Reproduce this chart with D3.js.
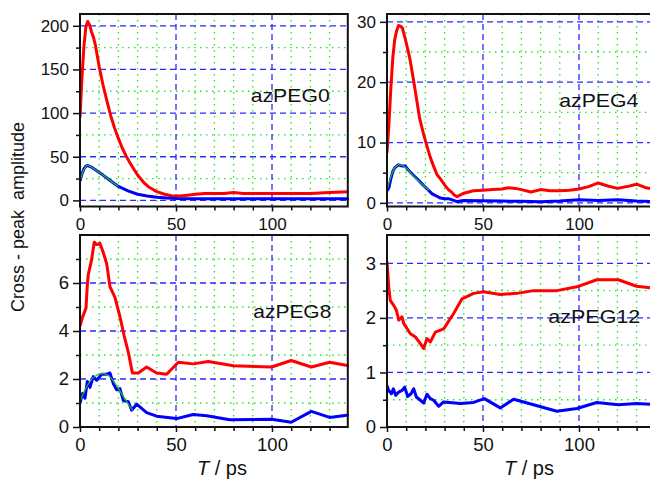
<!DOCTYPE html>
<html>
<head>
<meta charset="utf-8">
<script src="https://cdn.jsdelivr.net/npm/d3@7"></script>
<style>
  body { margin: 0; background: #fff; }
  text { font-family: "Liberation Sans", Arial, sans-serif; fill: #111; }
</style>
</head>
<body>
<svg id="chart"></svg>
<script>
// four panels, cross-peak amplitude vs waiting time T
const xMajor = [0, 50, 100];
const xMinor = [10, 20, 30, 40, 60, 70, 80, 90, 110, 120, 130];

// azPEG0
const tRed0 = [0,1,2,3,4,5,6,7,8,10,12,14,16,18,20,22,24,26,28,30,33,36,40,44,48,52,56,60,65,70,75,80,85,90,100,110,120,130,140];
const red0 = [95,140,175,198,205,201,193,187,178,153,132,114,97,83,71,60,51,43,36,29,21,15,10,7,5,5,6,7,8,8,8,9,8,8,8,8,8,9,10];
const tBlue0 = [0,1,2,3,4,5,6,8,10,12,15,18,20,25,30,35,40,45,50,60,70,80,90,100,110,120,130,140];
const blue0 = [22,30,36,39,40,39,38,35,32,29,24,19,16,11,7,5,3.5,2.8,2.3,2,2,2,2,2,2,2,2,2];
const tFit0 = [0,2,4,6,8,10,12,15,18,20];
const fit0 = [22,35,40,38,35,32,29,24,19,16];

// azPEG4
const tRed4 = [0,1,2,3,4,5,6,7,8,9.5,11,12.2,14,15.6,17,19.1,21,22.6,24,26,28,30.4,32,33.9,35,36.5,38,40,45,50,55,60,63,67,70,75,80,85,90,95,100,105,110,115,120,125,130,135,140];
const red4 = [8.3,13,19,24,27,28.5,29.4,29.3,29,27.2,25.2,23.4,20,16.8,14,11.3,9.2,7.5,6.3,4.7,3.9,2.8,2.2,1.7,1.3,1.0,1.3,1.6,2.0,2.1,2.2,2.3,2.5,2.4,2.2,1.8,2.2,2.0,2.0,2.1,2.3,2.7,3.3,2.8,2.4,2.7,3.1,2.5,2.2];
const tBlue4 = [0,1,2,3,4,5,6,7,8,9.5,11,12.5,14,16,19,21,23.5,26,27.8,30,32,34,36.5,38,40,50,60,70,80,90,100,110,120,130,140];
const blue4 = [2.0,2.5,4.0,5.2,5.8,6.1,6.3,6.2,6.1,6.1,5.5,5.0,4.5,3.9,2.9,2.3,1.5,1.1,0.8,0.7,0.7,0.5,0.2,0.3,0.4,0.35,0.3,0.25,0.2,0.3,0.5,0.4,0.5,0.3,0.2];
const tFit4 = [0,2,4,6,8,10,12,14,16,18,20,22];
const fit4 = [2.0,4.3,5.8,6.3,6.2,5.8,5.1,4.4,3.8,3.2,2.6,2.1];

// azPEG8
const tRed8 = [0,1.4,3.1,3.8,4.3,6,7.4,8.7,10.4,12,13.9,15.6,18.2,20.8,23,25.2,27.3,30.4,34.7,39.9,45.1,51.2,59,66.8,79.9,99.8,110,120.5,130,140];
const red8 = [4.2,4.6,4.95,5.9,6.35,6.95,7.7,7.6,7.65,7.3,6.8,5.85,5.4,4.6,3.8,3.1,2.25,2.25,2.5,2.25,2.2,2.7,2.63,2.73,2.55,2.5,2.77,2.5,2.7,2.55];
const tBlue8 = [0,1.4,2.6,3.8,5.2,6.9,8.7,11.3,13.9,15.6,17.4,19.1,20.8,22.6,25.2,26.9,29.5,34.7,39.9,50.3,59,66,78,99.8,110,120.5,130,140];
const blue8 = [1.0,1.4,1.2,1.9,1.65,2.1,1.95,2.2,2.2,2.25,1.8,1.55,1.6,1.1,1.05,0.7,0.95,0.6,0.45,0.35,0.52,0.47,0.3,0.32,0.2,0.65,0.4,0.5];
const tFit8 = [0,2,4,6,8,10,12,14,16,18,20,22,24,26,27.5];
const fit8 = [1.05,1.45,1.75,1.98,2.12,2.2,2.22,2.18,2.05,1.85,1.6,1.35,1.1,0.85,0.7];

// azPEG12
const tRed12 = [0,0.9,1.7,3.5,4.9,6.1,7.8,8.7,10.5,12.2,14.8,17.4,19.1,20.8,22.6,25.2,29.5,34.7,39.1,45.1,50.3,59,67.7,76.4,88.5,98.9,109.3,120.5,130,140];
const red12 = [3.03,2.57,2.32,2.23,2.14,1.96,2.02,1.9,1.8,1.71,1.65,1.53,1.44,1.62,1.56,1.74,1.8,2.08,2.35,2.45,2.48,2.43,2.45,2.5,2.5,2.57,2.7,2.7,2.58,2.54];
const tBlue12 = [0,0.9,2.3,3.3,4.5,6.1,7.8,9.2,10.8,12.5,13.9,15.3,17.4,19.1,20.8,22.6,24.3,26.9,29.5,38.2,45.1,50.7,59,66,88.5,98.9,109.3,120.5,130,140];
const blue12 = [0.76,0.67,0.61,0.7,0.58,0.64,0.67,0.73,0.56,0.61,0.7,0.55,0.49,0.44,0.6,0.52,0.49,0.38,0.46,0.43,0.45,0.52,0.35,0.51,0.29,0.34,0.45,0.41,0.43,0.41];

const panels = [
  { name: "azPEG0", x0: 80, y0: 14, h: 192.5, ydom: [-7, 213.5], yMajor: [0,50,100,150,200], yMinor: [25,75,125,175],
    red: [tRed0, red0], blue: [tBlue0, blue0], fit: [tFit0, fit0], lab: [170.7, 87.7, 79], fs: 17 },
  { name: "azPEG4", x0: 387, y0: 14, h: 192.5, ydom: [-0.6, 31.3], yMajor: [0,10,20,30], yMinor: [5,15,25],
    red: [tRed4, red4], blue: [tBlue4, blue4], fit: [tFit4, fit4], lab: [172.3, 93.3, 79], fs: 17 },
  { name: "azPEG8", x0: 80, y0: 235, h: 192, ydom: [0, 8], yMajor: [0,2,4,6], yMinor: [1,3,5,7],
    red: [tRed8, red8], blue: [tBlue8, blue8], fit: [tFit8, fit8], lab: [173.3, 83.3, 78], fs: 18.5 },
  { name: "azPEG12", x0: 387, y0: 235, h: 192, ydom: [0, 3.52], yMajor: [0,1,2,3], yMinor: [0.5,1.5,2.5],
    red: [tRed12, red12], blue: [tBlue12, blue12], fit: null, lab: [161.3, 87.7, 92], fs: 18.5 }
];

const width = 650, height = 479;
const pw = 268.8;

const svg = d3.select("#chart")
  .attr("width", width)
  .attr("height", height);

function drawPanel(p, i) {
  const x = d3.scaleLinear().domain([0, 140]).range([0, pw]);
  const y = d3.scaleLinear().domain(p.ydom).range([p.h, 0]);
  const g = svg.append("g").attr("transform", `translate(${p.x0},${p.y0})`);

  g.append("clipPath").attr("id", "clip" + i)
    .append("rect").attr("width", pw).attr("height", p.h);

  // grid: green dotted minor, blue dashed major
  g.selectAll(".gx").data(xMinor).enter().append("line")
    .attr("x1", d => x(d)).attr("x2", d => x(d)).attr("y1", 0).attr("y2", p.h)
    .attr("stroke", "#22e622").attr("stroke-width", 1.3).attr("stroke-dasharray", "1.5,4.5");
  g.selectAll(".gy").data(p.yMinor).enter().append("line")
    .attr("x1", 0).attr("x2", pw).attr("y1", d => y(d)).attr("y2", d => y(d))
    .attr("stroke", "#22e622").attr("stroke-width", 1.3).attr("stroke-dasharray", "1.5,4.5");
  g.selectAll(".bx").data(xMajor.filter(d => d > 0)).enter().append("line")
    .attr("x1", d => x(d)).attr("x2", d => x(d)).attr("y1", 0).attr("y2", p.h)
    .attr("stroke", "#2a2aff").attr("stroke-width", 1.3).attr("stroke-dasharray", "6,4");
  g.selectAll(".by").data(p.yMajor.filter(d => y(d) < p.h - 1)).enter().append("line")
    .attr("x1", 0).attr("x2", pw).attr("y1", d => y(d)).attr("y2", d => y(d))
    .attr("stroke", "#2a2aff").attr("stroke-width", 1.3).attr("stroke-dasharray", "6,4");

  // curves
  const line = d3.line().x(d => x(d[0])).y(d => y(d[1]));
  const plot = g.append("g").attr("clip-path", `url(#clip${i})`);
  plot.append("path").datum(d3.zip(p.red[0], p.red[1])).attr("d", line)
    .attr("fill", "none").attr("stroke", "#ff0000").attr("stroke-width", 3).attr("stroke-linejoin", "round");
  plot.append("path").datum(d3.zip(p.blue[0], p.blue[1])).attr("d", line)
    .attr("fill", "none").attr("stroke", "#0000ff").attr("stroke-width", 3).attr("stroke-linejoin", "round");
  if (p.fit) {
    plot.append("path").datum(d3.zip(p.fit[0], p.fit[1])).attr("d", line.curve(d3.curveMonotoneX))
      .attr("fill", "none").attr("stroke", "#20c020").attr("stroke-width", 1.2);
  }

  // axes
  const fmt = d => String(d);
  g.append("g").attr("transform", `translate(0,${p.h})`)
    .call(d3.axisBottom(x).tickValues(xMajor).tickFormat(fmt).tickSize(5).tickPadding(6));
  g.append("g").attr("transform", `translate(0,${p.h})`)
    .call(d3.axisBottom(x).tickValues(xMinor).tickSize(4).tickFormat(""));
  g.append("g")
    .call(d3.axisLeft(y).tickValues(p.yMajor).tickFormat(fmt).tickSize(7).tickPadding(4));
  g.append("g")
    .call(d3.axisLeft(y).tickValues(p.yMinor).tickSize(4).tickFormat(""));
  g.selectAll(".domain").remove();
  g.selectAll(".tick line").attr("stroke", "#111").attr("stroke-width", 1.5);
  g.selectAll(".tick text").style("font-size", p.fs + "px")
    .style("font-family", "'Liberation Sans', Arial, sans-serif").attr("fill", "#111");

  // frame: left, bottom, top, right
  g.append("rect").attr("width", pw - 1).attr("height", p.h)
    .attr("fill", "none").attr("stroke", "#111").attr("stroke-width", 2);

  g.append("text").attr("x", p.lab[0]).attr("y", p.lab[1])
    .attr("textLength", p.lab[2]).attr("lengthAdjust", "spacingAndGlyphs")
    .style("font-size", "19px").text(p.name);

  if (p.y0 > 100) {
    g.append("text").attr("x", 142).attr("y", p.h + 48)
      .attr("text-anchor", "middle").style("font-size", "20px")
      .html('<tspan font-style="italic">T</tspan> / ps');
  }
}

panels.forEach(drawPanel);

svg.append("text")
  .attr("transform", "translate(24,217) rotate(-90)")
  .attr("text-anchor", "middle").style("font-size", "18px")
  .attr("xml:space", "preserve")
  .text("Cross - peak  amplitude");
</script>
</body>
</html>
